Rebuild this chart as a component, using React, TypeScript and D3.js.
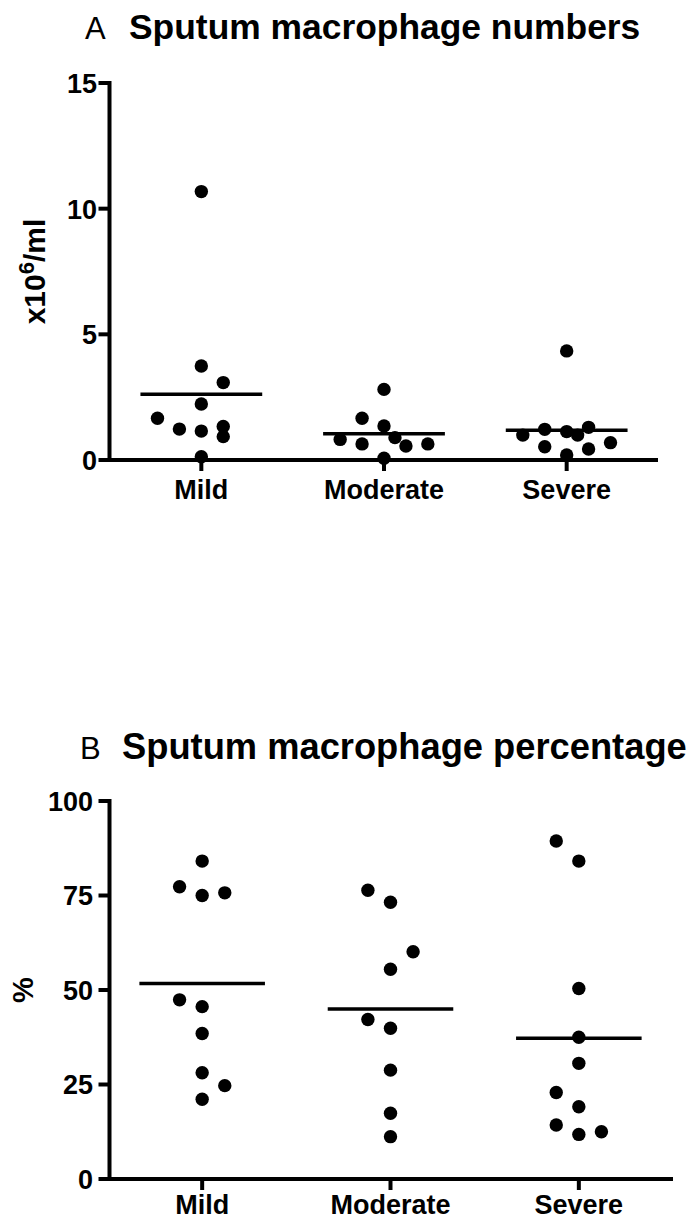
import React from "react";
import * as d3 from "d3";

// ---------- data ----------
const categories = ["Mild", "Moderate", "Severe"];

// Panel A: sputum macrophage numbers (x10^6/ml)
const numbersMild = [10.68, 3.74, 3.08, 2.23, 1.66, 1.23, 1.15, 1.33, 0.93, 0.13];
const numbersModerate = [2.81, 1.66, 1.35, 0.82, 0.64, 0.89, 0.56, 0.64, 0.07];
const numbersSevere = [4.34, 0.99, 1.22, 1.13, 0.99, 1.3, 0.69, 0.53, 0.44, 0.2];
// scatter slot (side-by-side spread index) of each point
const numbersMildSlot = [0, 0, 1, 0, -2, -1, 0, 1, 1, 0];
const numbersModerateSlot = [0, -1, 0, -2, -1, 0.5, 1, 2, 0];
const numbersSevereSlot = [0, -2, -1, 0, 0.5, 1, 2, -1, 1, 0];
const numbersTicks = [0, 5, 10, 15];

// Panel B: sputum macrophage percentage
const pctMild = [84.1, 77.3, 75.0, 75.7, 47.4, 45.6, 38.5, 28.1, 24.7, 21.1];
const pctModerate = [76.4, 73.2, 60.1, 55.5, 42.2, 39.9, 28.8, 17.4, 11.2];
const pctSevere = [89.4, 84.1, 50.4, 37.5, 30.6, 22.9, 19.1, 14.3, 11.8, 12.5];
const pctMildSlot = [0, -1, 0, 1, -1, 0, 0, 0, 1, 0];
const pctModerateSlot = [-1, 0, 1, 0, -1, 0, 0, 0, 0];
const pctSevereSlot = [-1, 0, 0, 0, 0, -1, 0, -1, 0, 1];
const pctTicks = [0, 25, 50, 75, 100];

const FONT = "'Liberation Sans', Arial, Helvetica, sans-serif";

type PanelProps = {
  letter: string;
  title: string;
  titleX: number;
  letterX: number;
  titleY: number;
  titleSize: number;
  groups: number[][];
  slots: number[][];
  ticks: number[];
  domain: [number, number];
  top: number;
  bottom: number;
  left: number;
  right: number;
  tickLabelX: number;
  catOffset: number;
  yLabel: React.ReactNode;
  yLabelX: number;
  yLabelSize: number;
};

function Panel(p: PanelProps) {
  const y = d3.scaleLinear().domain(p.domain).range([p.bottom, p.top]);
  const x = d3.scaleBand<string>().domain(categories).range([p.left, p.right]).padding(0);
  const bw = x.bandwidth();
  const step = bw * 0.12;
  const half = bw / 3;
  const axisX = 109.5;
  const lw = 4;
  return (
    <g>
      <text x={p.letterX} y={p.titleY} fontFamily={FONT} fontSize={31} fill="#000">
        {p.letter}
      </text>
      <text x={p.titleX} y={p.titleY} fontFamily={FONT} fontSize={p.titleSize} fontWeight="bold" fill="#000">
        {p.title}
      </text>

      {/* y axis */}
      <line x1={axisX} x2={axisX} y1={y(p.domain[1]) - lw / 2} y2={p.bottom + lw / 2} stroke="#000" strokeWidth={lw} />
      {p.ticks.map((t) => (
        <g key={t}>
          <line x1={axisX - 11} x2={axisX} y1={y(t)} y2={y(t)} stroke="#000" strokeWidth={lw} />
          <text
            x={p.tickLabelX}
            y={y(t)}
            dy="0.37em"
            textAnchor="end"
            fontFamily={FONT}
            fontSize={27}
            fontWeight="bold"
            fill="#000"
          >
            {t}
          </text>
        </g>
      ))}
      {/* x axis */}
      <line x1={axisX - lw / 2} x2={p.right} y1={p.bottom} y2={p.bottom} stroke="#000" strokeWidth={lw} />
      {categories.map((c) => {
        const cx = (x(c) as number) + bw / 2;
        return (
          <g key={c}>
            <line x1={cx} x2={cx} y1={p.bottom} y2={p.bottom + 11} stroke="#000" strokeWidth={lw} />
            <text
              x={cx}
              y={p.bottom + p.catOffset}
              textAnchor="middle"
              fontFamily={FONT}
              fontSize={27}
              fontWeight="bold"
              fill="#000"
            >
              {c}
            </text>
          </g>
        );
      })}

      {/* points and mean lines */}
      {p.groups.map((vals, gi) => {
        const cx = (x(categories[gi]) as number) + bw / 2;
        const m = d3.mean(vals) as number;
        return (
          <g key={gi}>
            <line x1={cx - half} x2={cx + half} y1={y(m)} y2={y(m)} stroke="#000" strokeWidth={3.5} />
            {vals.map((v, i) => (
              <circle key={i} cx={cx + p.slots[gi][i] * step} cy={y(v)} r={6.7} fill="#000" />
            ))}
          </g>
        );
      })}

      {/* y label */}
      <text
        transform={`translate(${p.yLabelX},${(p.top + p.bottom) / 2}) rotate(-90)`}
        textAnchor="middle"
        fontFamily={FONT}
        fontSize={p.yLabelSize}
        fontWeight="bold"
        fill="#000"
      >
        {p.yLabel}
      </text>
    </g>
  );
}

export default function App() {
  return (
    <svg
      width={694}
      height={1222}
      viewBox="0 0 694 1222"
      style={{ position: "absolute", left: 0, top: 0, background: "#fff" }}
    >
      <rect x={0} y={0} width={694} height={1222} fill="#fff" />
      <Panel
        letter="A"
        title="Sputum macrophage numbers"
        letterX={85}
        titleX={129}
        titleY={39}
        titleSize={35.4}
        groups={[numbersMild, numbersModerate, numbersSevere]}
        slots={[numbersMildSlot, numbersModerateSlot, numbersSevereSlot]}
        ticks={numbersTicks}
        domain={[0, 15]}
        top={83}
        bottom={460}
        left={110}
        right={658}
        tickLabelX={97}
        catOffset={39}
        yLabelX={45}
        yLabelSize={30}
        yLabel={
          <>
            <tspan>x10</tspan>
            <tspan dy={-11} fontSize={22}>6</tspan>
            <tspan dy={11}>/ml</tspan>
          </>
        }
      />
      <Panel
        letter="B"
        title="Sputum macrophage percentage"
        letterX={80}
        titleX={122}
        titleY={759}
        titleSize={36.3}
        groups={[pctMild, pctModerate, pctSevere]}
        slots={[pctMildSlot, pctModerateSlot, pctSevereSlot]}
        ticks={pctTicks}
        domain={[0, 100]}
        top={801}
        bottom={1179}
        left={108}
        right={673}
        tickLabelX={93}
        catOffset={35}
        yLabelX={33}
        yLabelSize={29}
        yLabel={<tspan>%</tspan>}
      />
    </svg>
  );
}
